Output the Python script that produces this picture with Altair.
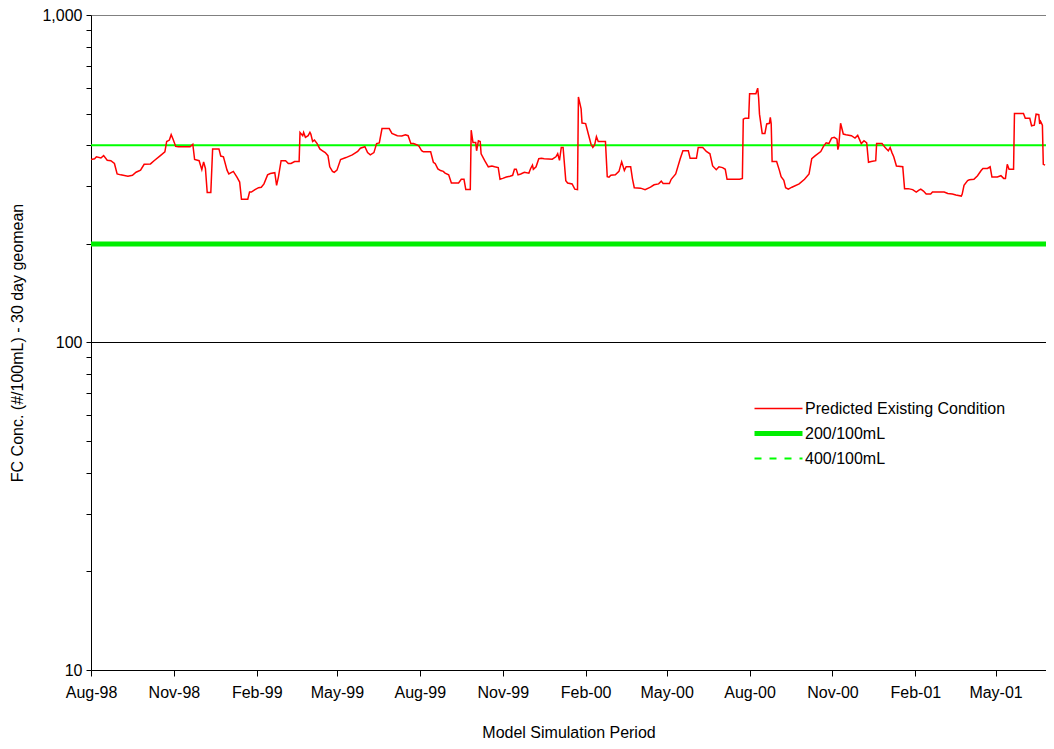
import altair as alt
import pandas as pd

START = "1998-08-01"

# Day offsets from 1 Aug 1998 and 30-day geomean values
red_days = [
    0, 4, 6, 11, 14, 18, 22, 26, 29, 33, 41, 46, 50, 55, 59, 66, 70, 77, 82, 84,
    87, 89, 91, 94, 97, 110, 113, 115, 120, 123, 125, 127, 129, 133, 135, 142, 144, 147, 151, 153,
    158, 162, 165, 167, 174, 176, 178,
    182, 186, 189, 192, 196, 199, 204, 206, 208, 211, 216, 219, 222, 226, 231, 232, 235, 236, 238, 241,
    243, 244, 246, 248, 251, 254, 257, 260, 263, 265, 268, 270, 273, 277, 283, 290, 296, 299, 304, 307,
    310, 314, 317, 320, 323, 331, 334, 340, 345, 349, 352, 355,
    358, 362, 364, 367, 369, 377, 380, 382, 385, 388, 391, 393, 397, 400, 408, 411, 414, 416, 421, 422,
    424, 427, 428, 430, 432, 433, 437, 441, 445, 448, 452, 454, 457, 461, 465, 468, 470, 472, 474, 477,
    481, 486, 488, 490, 491, 494, 497, 500, 503, 512, 516, 518, 520, 522, 524, 527, 529,
    534, 537, 540, 541, 544, 545, 549, 552, 555, 557, 559, 561, 563, 571, 573, 575, 577, 582, 586, 589,
    592, 594, 599, 601, 603, 610, 615, 621, 625, 630, 633, 635, 642, 644, 649, 654, 657, 663, 665, 672,
    674, 679, 683, 687, 690, 694, 697, 701, 704, 706,
    712, 720, 723, 724, 726, 730, 731, 738, 740, 741, 742, 745, 748, 750, 753, 754, 755, 756, 761, 764,
    766, 769, 771, 774, 778, 786, 792, 797, 800, 804, 810, 813, 816, 819, 822, 825, 828, 829, 830, 832,
    835, 838, 844, 848, 851, 855, 858, 861, 863, 866, 871, 872, 878, 881, 883,
    885, 887, 889, 891, 894, 901, 903, 907, 912, 916, 919, 921, 924, 927, 932, 934, 947, 951, 956, 960,
    966, 967, 969, 973, 975, 980, 984, 988, 990, 995, 998, 1000, 1006, 1010, 1013, 1015, 1017, 1019, 1024, 1025,
    1035, 1037, 1042, 1044, 1047, 1049, 1052, 1053, 1054, 1056, 1057, 1059,
]
red_values = [
    362, 364, 369, 366, 372, 360, 359, 352, 327, 325, 322, 324, 331, 336, 350, 351, 359, 372, 382, 411,
    415, 431, 418, 397, 396, 396, 403, 362, 359, 337, 356, 340, 287, 287, 390, 390, 371, 369, 336, 327,
    333, 320, 309, 274, 274, 288, 288,
    293, 297, 298, 305, 325, 328, 330, 302, 320, 359, 359, 352, 352, 357, 357, 438, 428, 438, 423, 428,
    438, 433, 411, 415, 405, 390, 385, 380, 372, 344, 333, 331, 336, 362, 367, 374, 383, 392, 396, 380,
    374, 380, 405, 407, 450, 450, 435, 428, 427, 431, 428, 405,
    405, 401, 398, 385, 382, 382, 355, 352, 339, 335, 333, 329, 325, 307, 307, 315, 315, 293, 293, 445,
    408, 408, 385, 413, 411, 377, 359, 344, 346, 344, 342, 315, 317, 320, 322, 324, 338, 338, 325, 327,
    331, 329, 340, 348, 338, 344, 364, 365, 364, 363, 369, 377, 360, 394, 394, 312, 307,
    305, 294, 293, 562, 517, 468, 466, 433, 403, 394, 401, 425, 411, 411, 321, 320, 324, 325, 333, 356,
    335, 344, 344, 316, 297, 296, 293, 298, 303, 305, 311, 306, 306, 315, 327, 364, 385, 385, 365, 365,
    394, 394, 383, 377, 346, 337, 344, 342, 338, 315,
    315, 315, 317, 481, 484, 484, 575, 575, 598, 560, 498, 435, 435, 465, 467, 487, 465, 357, 357, 336,
    321, 313, 297, 294, 298, 305, 315, 327, 364, 372, 383, 397, 407, 405, 421, 423, 418, 388, 399, 467,
    433, 431, 428, 421, 429, 405, 413, 407, 355, 357, 359, 405, 405, 395, 390,
    385, 394, 380, 369, 346, 344, 295, 295, 293, 288, 292, 294, 290, 284, 284, 288, 288, 285, 284, 282,
    280, 284, 302, 312, 314, 315, 323, 335, 340, 340, 344, 320, 320, 323, 317, 317, 350, 338, 338, 500,
    500, 484, 484, 459, 461, 498, 496, 465, 473, 461, 350, 348,
]
assert len(red_days) == len(red_values)

series_names = ["Predicted Existing Condition", "200/100mL", "400/100mL"]
series_colors = ["#ff0000", "#00ee00", "#00ff00"]
series_widths = [1.5, 5, 2]
series_dashes = [[1, 0], [1, 0], [7, 8]]

threshold_names = ["200/100mL", "400/100mL"]
threshold_values = [200, 400]

x_tick_months = [(1998, 8), (1998, 11), (1999, 2), (1999, 5), (1999, 8), (1999, 11),
                 (2000, 2), (2000, 5), (2000, 8), (2000, 11), (2001, 2), (2001, 5)]
x_domain = [(1998, 8, 1), (2001, 6, 26)]
y_tick_values = [10, 20, 30, 40, 50, 60, 70, 80, 90,
                 100, 200, 300, 400, 500, 600, 700, 800, 900, 1000]

FONT = "Liberation Sans"

red_df = pd.DataFrame({
    "date": pd.Timestamp(START) + pd.to_timedelta(red_days, unit="D"),
    "value": red_values,
    "series": series_names[0],
})
thr_df = pd.DataFrame({"value": threshold_values, "series": threshold_names})

color_scale = alt.Scale(domain=series_names, range=series_colors)
width_scale = alt.Scale(type="ordinal", domain=series_names, range=series_widths)
dash_scale = alt.Scale(domain=series_names, range=series_dashes)

leg = alt.Legend(
    title=None, orient="none", legendX=661, legendY=381,
    symbolType="stroke", symbolSize=2304, clipHeight=25, rowPadding=0, padding=0,
    labelFont=FONT, labelFontSize=16, labelColor="black", labelOffset=0, labelLimit=400,
)

x_axis = alt.Axis(
    values=[alt.DateTime(year=y, month=m, date=1) for y, m in x_tick_months],
    format="%b-%y", tickSize=6, labelPadding=8, grid=False,
    domainColor="black", tickColor="black", labelColor="black", titleColor="black",
    labelFont=FONT, titleFont=FONT, labelFontSize=16, titleFontSize=16,
    titleFontWeight="normal", titlePadding=24, labelFlush=False, labelOverlap=False,
)
y_axis = alt.Axis(
    values=y_tick_values,
    labelExpr="datum.value == 10 || datum.value == 100 || datum.value == 1000 ? format(datum.value, ',') : ''",
    tickSize=5, labelPadding=4, labelOverlap=False,
    domainColor="black", tickColor="black", labelColor="black", titleColor="black",
    grid=True,
    gridColor={"condition": {"test": "datum.value == 1000", "value": "#808080"}, "value": "black"},
    gridOpacity={"condition": {"test": "datum.value == 100 || datum.value == 1000", "value": 1}, "value": 0},
    labelFont=FONT, titleFont=FONT, labelFontSize=16, titleFontSize=16,
    titleFontWeight="normal", titlePadding=16,
)

x_enc = alt.X("date:T", title="Model Simulation Period", axis=x_axis,
              scale=alt.Scale(domain=[alt.DateTime(year=a, month=b, date=c) for a, b, c in x_domain], nice=False))
y_enc = alt.Y("value:Q", title="FC Conc. (#/100mL) - 30 day geomean", axis=y_axis,
              scale=alt.Scale(type="log", domain=[10, 1000], nice=False))
color_enc = alt.Color("series:N", scale=color_scale, legend=leg)
width_enc = alt.StrokeWidth("series:N", scale=width_scale, legend=leg)
dash_enc = alt.StrokeDash("series:N", scale=dash_scale, legend=leg)

red = alt.Chart(red_df).mark_line().encode(x=x_enc, y=y_enc, color=color_enc, strokeWidth=width_enc)
thr = alt.Chart(thr_df).mark_rule().encode(y=y_enc, color=color_enc, strokeWidth=width_enc)
# carries only the legend's dash pattern; draws nothing
dash_key = alt.Chart(thr_df).transform_filter("false").mark_rule().encode(
    y=y_enc, color=color_enc, strokeWidth=width_enc, strokeDash=dash_enc)

chart = alt.layer(thr, red, dash_key).properties(
    width=955, height=655,
    padding={"left": 83, "top": 7, "right": 0, "bottom": 71},
    autosize=alt.AutoSizeParams(type="none"),
).configure_view(stroke=None).configure(font=FONT, background="white")

chart.save("out.html", embed_options={"renderer": "svg", "actions": False})
